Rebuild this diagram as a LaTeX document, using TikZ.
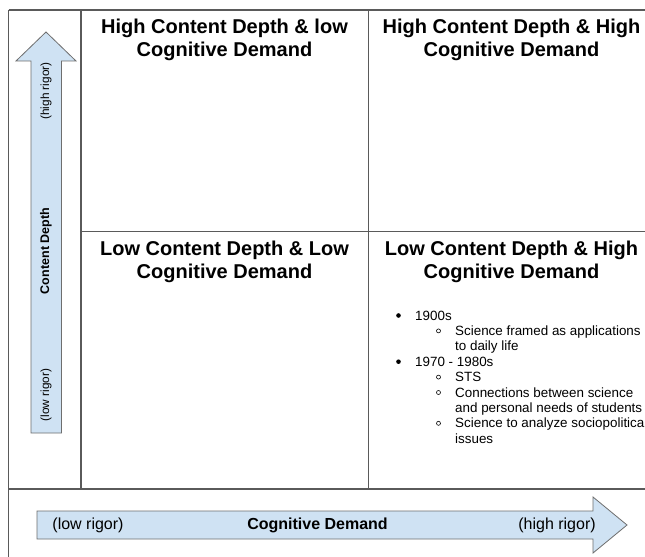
\documentclass[tikz,border=0pt]{standalone}
\usepackage{fontspec}
\setmainfont{Liberation Sans}
\definecolor{arrowfill}{HTML}{CFE2F3}
\definecolor{arrowline}{HTML}{6E6E6E}
\definecolor{gridline}{HTML}{5A5A5A}
\begin{document}
\begin{tikzpicture}[x=1bp,y=-1bp,
  grid/.style={draw=gridline,line width=1.1bp},
  axisarrow/.style={fill=arrowfill,draw=arrowline,line width=0.8bp},
  quadtitle/.style={align=center,font=\fontsize{20bp}{23bp}\selectfont\bfseries,inner sep=0pt},
  vlabel/.style={rotate=90,font=\fontsize{11.8bp}{13bp}\selectfont,inner sep=0pt},
  hlabel/.style={font=\fontsize{16bp}{18bp}\selectfont,inner sep=0pt},
  itemtext/.style={anchor=base west,font=\fontsize{13.4bp}{15.4bp}\selectfont,inner sep=0pt},
  dotbullet/.style={fill=black,circle,inner sep=0pt,minimum size=4.6bp},
  ringbullet/.style={draw=black,line width=0.6bp,circle,inner sep=0pt,minimum size=4bp}
]
\clip (0,0) rectangle (645,557);
\fill[white] (0,0) rectangle (645,557);

% grid lines
\draw[grid] (8.5,10) -- (645,10);
\draw[grid] (8.5,10) -- (8.5,557);
\draw[grid] (81,10) -- (81,489);
\draw[grid,line width=0.9bp] (368,10) -- (368,489);
\draw[grid,line width=0.9bp] (81,231) -- (645,231);
\draw[grid,line width=1.4bp] (8.5,489) -- (645,489);

% vertical arrow
\draw[axisarrow] (46,32) -- (76,61) -- (61.5,61) -- (61.5,433) -- (31,433) -- (31,61) -- (16,61) -- cycle;
\node[vlabel] (vhigh) at (46,91) {(high rigor)};
\node[vlabel,font=\fontsize{12.5bp}{14bp}\selectfont\bfseries] (vdepth) at (46,251) {Content Depth};
\node[vlabel] (vlow) at (46,395) {(low rigor)};

% horizontal arrow
\draw[axisarrow] (37,511) -- (593,511) -- (593,497) -- (627,525) -- (593,553) -- (593,539) -- (37,539) -- cycle;
\node[hlabel] (hlow) at (88,525) {(low rigor)};
\node[hlabel,font=\fontsize{16bp}{18bp}\selectfont\bfseries] (hdemand) at (317.5,525) {Cognitive Demand};
\node[hlabel] (hhigh) at (557,525) {(high rigor)};

% quadrant titles
\node[quadtitle] (q1) at (224.5,40) {High Content Depth \& low\\Cognitive Demand};
\node[quadtitle] (q2) at (511.5,40) {High Content Depth \& High\\Cognitive Demand};
\node[quadtitle] (q3) at (224.5,262) {Low Content Depth \& Low\\Cognitive Demand};
\node[quadtitle] (q4) at (511.5,262) {Low Content Depth \& High\\Cognitive Demand};

% bullet list
\node[dotbullet] (b1) at (398.5,315.5) {};
\node[itemtext] (t1) at (415,320) {1900s};
\node[ringbullet] (s1) at (438.5,330.9) {};
\node[itemtext] (t2) at (455,335.4) {Science framed as applications};
\node[itemtext] (t3) at (455,350.8) {to daily life};
\node[dotbullet] (b2) at (398.5,361.7) {};
\node[itemtext] (t4) at (415,366.2) {1970 - 1980s};
\node[ringbullet] (s2) at (438.5,377.1) {};
\node[itemtext] (t5) at (455,381.6) {STS};
\node[ringbullet] (s3) at (438.5,392.5) {};
\node[itemtext] (t6) at (455,397) {Connections between science};
\node[itemtext] (t7) at (455,412.4) {and personal needs of students};
\node[ringbullet] (s4) at (438.5,423.3) {};
\node[itemtext] (t8) at (455,427.8) {Science to analyze sociopolitica};
\node[itemtext] (t9) at (455,443.2) {issues};
\end{tikzpicture}
\end{document}
